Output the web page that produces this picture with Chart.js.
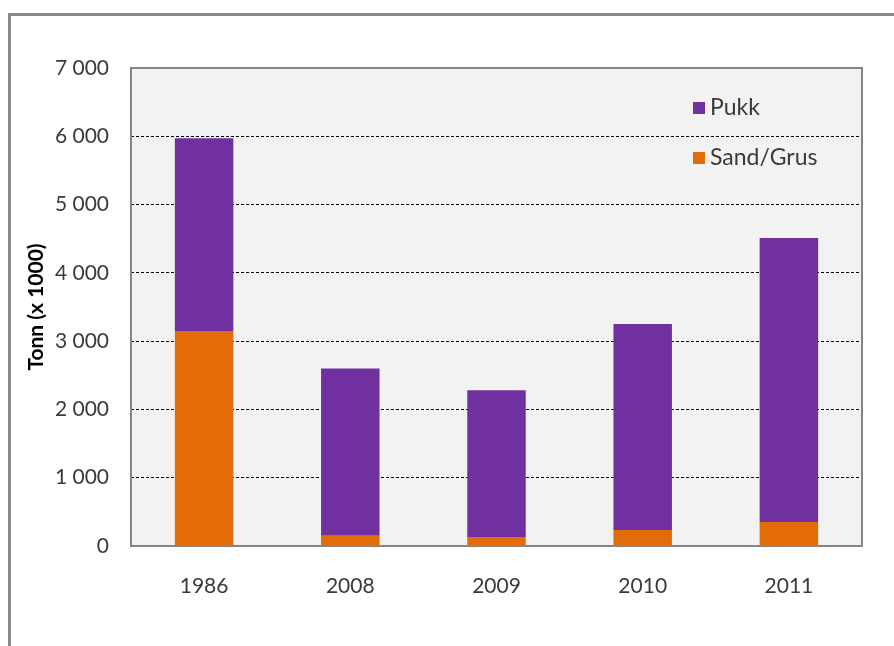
<!DOCTYPE html>
<html>
<head>
<meta charset="utf-8">
<script src="https://cdn.jsdelivr.net/npm/chart.js@4"></script>
<style>
  html, body { margin: 0; padding: 0; background: #fff; }
  #wrap { width: 894px; height: 646px; }
</style>
</head>
<body>
<div id="wrap"><canvas id="canvas" width="894" height="646"></canvas></div>
<script>
const years = ['1986', '2008', '2009', '2010', '2011'];
const sandGrus = [3150, 150, 130, 235, 350];
const pukk = [2820, 2450, 2150, 3015, 4160];
const yTicks = [0, 1000, 2000, 3000, 4000, 5000, 6000, 7000];

const purple = '#7030a0';
const orange = '#e36c09';
const textColor = '#3a3a3a';
const fontFamily = 'Lato, "Open Sans", sans-serif';

// gray plot background + frames + legend inside the plot
const decor = {
  id: 'decor',
  beforeDraw(chart) {
    const c = chart.ctx, a = chart.chartArea;
    c.save();
    c.fillStyle = '#f2f2f2';
    c.fillRect(a.left, a.top, a.right - a.left, a.bottom - a.top);
    c.restore();
  },
  afterDraw(chart) {
    const c = chart.ctx, a = chart.chartArea;
    c.save();
    c.strokeStyle = '#868686';
    c.lineWidth = 2;
    c.strokeRect(a.left, a.top, a.right - a.left, a.bottom - a.top);
    // outer frame, cut off at the right and bottom
    c.lineWidth = 3;
    c.strokeStyle = '#8a8a8a';
    c.strokeRect(9.5, 14.5, chart.width + 20, chart.height + 20);
    // legend
    const items = [['Pukk', purple], ['Sand/Grus', orange]];
    c.font = '23px ' + fontFamily;
    c.textBaseline = 'middle';
    items.forEach((it, i) => {
      const y = a.top + 40 + i * 50;
      c.fillStyle = it[1];
      c.fillRect(a.right - 169, y - 6, 12, 12);
      c.fillStyle = textColor;
      c.fillText(it[0], a.right - 152, y);
    });
    c.restore();
  }
};

const ctx = document.getElementById('canvas').getContext('2d');
new Chart(ctx, {
  type: 'bar',
  data: {
    labels: years,
    datasets: [
      { label: 'Sand/Grus', data: sandGrus, backgroundColor: orange },
      { label: 'Pukk', data: pukk, backgroundColor: purple }
    ]
  },
  options: {
    responsive: false,
    animation: false,
    layout: { padding: { top: 68, right: 32, left: 0, bottom: 0 } },
    datasets: { bar: { barPercentage: 0.4, categoryPercentage: 1 } },
    plugins: { legend: { display: false }, tooltip: { enabled: false } },
    scales: {
      x: {
        stacked: true,
        grid: { display: false },
        border: { display: false },
        ticks: { color: textColor, font: { family: fontFamily, size: 21 }, padding: 20 },
        afterFit(s) { s.height = 100; }
      },
      y: {
        stacked: true,
        min: 0,
        max: 7000,
        afterBuildTicks(s) { s.ticks = yTicks.map(v => ({ value: v })); },
        grid: {
          color: '#000',
          lineWidth: 1,
          drawTicks: false
        },
        border: { display: false, dash: [3, 2] },
        ticks: {
          color: textColor,
          font: { family: fontFamily, size: 21 },
          padding: 22,
          callback: v => String(v).replace(/\B(?=(\d{3})+(?!\d))/g, ' ')
        },
        title: {
          display: true,
          text: 'Tonn (x 1000)',
          color: '#000',
          font: { family: fontFamily, size: 21, weight: 'bold' },
          padding: { top: 24, bottom: 0 }
        },
        afterFit(s) { s.width = 131; }
      }
    }
  },
  plugins: [decor]
});
</script>
</body>
</html>
